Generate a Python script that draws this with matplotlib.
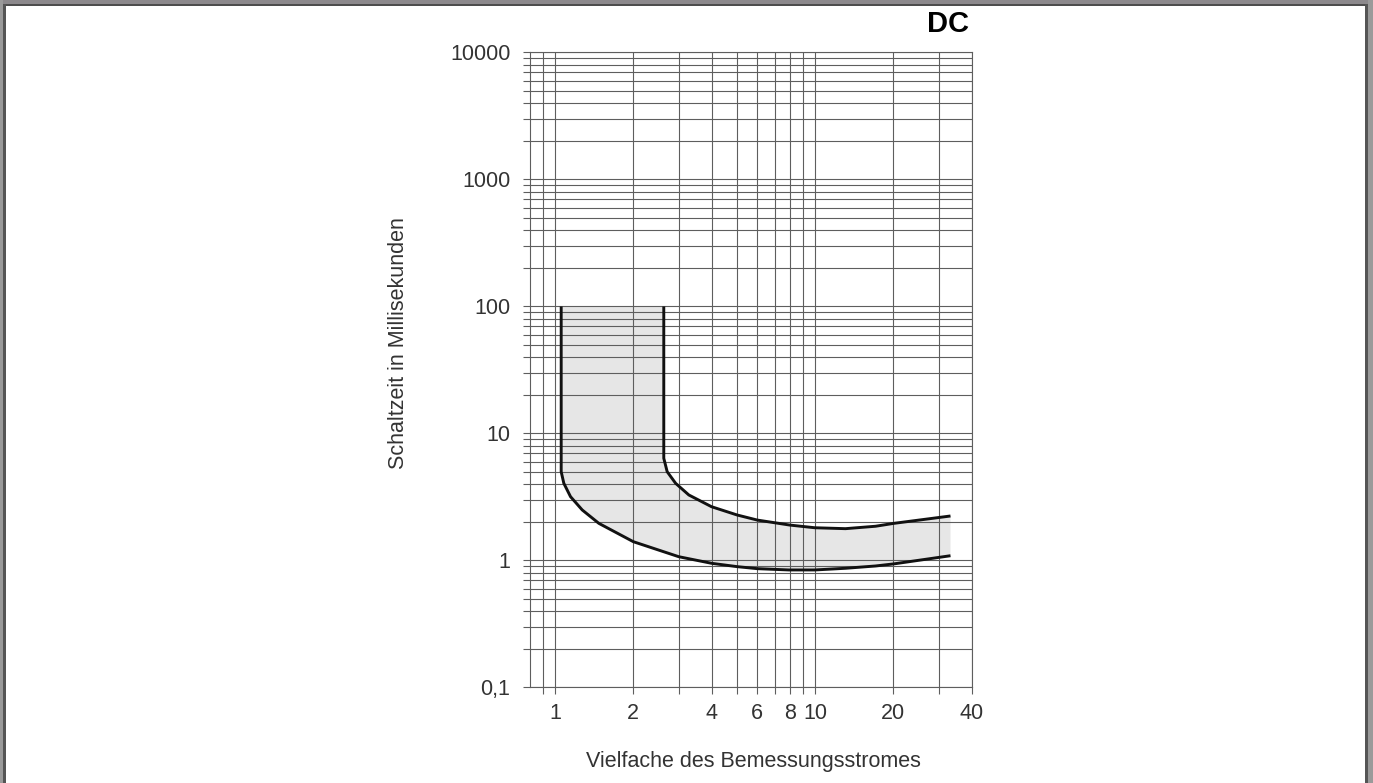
import matplotlib.pyplot as plt
from matplotlib.patches import Rectangle
import numpy as np

plt.rcParams['font.family'] = ['Liberation Sans', 'DejaVu Sans']

# lower boundary of the tripping band (x = multiple of rated current, y = ms)
lower_x = [1.056, 1.056, 1.081, 1.147, 1.272, 1.474, 2.0, 2.99, 4.0, 5.02, 6.0, 7.93, 9.98, 13.1, 17.1, 20.1, 33.2]
lower_y = [100, 5.0, 4.05, 3.18, 2.50, 1.96, 1.406, 1.071, 0.95, 0.894, 0.862, 0.842, 0.842, 0.868, 0.905, 0.94, 1.09]
# upper boundary
upper_x = [2.62, 2.62, 2.70, 2.91, 3.27, 4.0, 5.02, 6.0, 8.0, 9.98, 13.1, 17.1, 20.1, 33.2]
upper_y = [100, 6.38, 5.0, 4.05, 3.28, 2.65, 2.28, 2.08, 1.90, 1.81, 1.78, 1.86, 1.96, 2.24]

xticks = [1, 2, 4, 6, 8, 10, 20, 40]
xminor = [0.9, 3, 5, 7, 9, 30]
yticks = [0.1, 1, 10, 100, 1000, 10000]
ytick_labels = ['0,1', '1', '10', '100', '1000', '10000']

grid_col = '#5e5e5e'
text_col = '#333333'

fig = plt.figure(figsize=(13.73, 7.83), dpi=100)
ax = fig.add_axes([0.3859, 0.122, 0.3217, 0.811])
ax.set_xscale('log')
ax.set_yscale('log')
ax.set_xlim(0.8, 40)
ax.set_ylim(0.1, 10000)

# shaded band
band_x = np.concatenate([lower_x, upper_x[::-1]])
band_y = np.concatenate([lower_y, upper_y[::-1]])
ax.fill(band_x, band_y, color='#e6e6e6', lw=0, zorder=1)

ax.set_xticks(xticks)
ax.set_xticklabels([str(t) for t in xticks])
ax.set_xticks(xminor, minor=True)
ax.set_yticks(yticks)
ax.set_yticklabels(ytick_labels)
ymin = [m * d for d in [0.1, 1, 10, 100, 1000] for m in range(2, 10)]
ax.set_yticks(ymin, minor=True)
ax.yaxis.set_minor_formatter(plt.NullFormatter())
ax.xaxis.set_minor_formatter(plt.NullFormatter())

ax.grid(True, which='both', color=grid_col, lw=0.8, zorder=2)
ax.set_axisbelow(False)
for s in ax.spines.values():
    s.set_color(grid_col)
    s.set_linewidth(0.8)

ax.tick_params(which='both', direction='out', length=5, width=0.8, color=grid_col,
               labelsize=15.5, labelcolor=text_col)
ax.tick_params(axis='y', which='both', pad=9)
ax.tick_params(axis='x', which='both', pad=6)

ax.plot(lower_x, lower_y, color='#111111', lw=2.1, zorder=4, solid_capstyle='butt')
ax.plot(upper_x, upper_y, color='#111111', lw=2.1, zorder=4, solid_capstyle='butt')

fig.text(753 / 1373, 1 - 762 / 783, 'Vielfache des Bemessungsstromes', ha='center', va='center',
         fontsize=15.5, color=text_col)
fig.text(399 / 1373, 1 - 343 / 783, 'Schaltzeit in Millisekunden', ha='center', va='center',
         rotation=90, fontsize=15.5, color=text_col)
fig.text(969 / 1373, 1 - 24 / 783, 'DC', ha='right', va='center', fontsize=21,
         fontweight='bold', color='black')

# page frame
W, H = 1373, 783
def prect(x, y, w, h, c):
    fig.patches.append(Rectangle((x / W, 1 - (y + h) / H), w / W, h / H,
                                 transform=fig.transFigure, color=c, lw=0, zorder=10))
prect(0, 0, W, 4, '#8c898c')
prect(0, 4, W, 2, '#4d4d4d')
prect(0, 0, 3.5, H, '#9a9a9a')
prect(3.5, 4, 2, H, '#555555')
prect(1365, 4, 2.5, H, '#555555')
prect(1367.5, 0, 5.5, H, '#9a9a9a')

fig.savefig('out.png', dpi=100)
